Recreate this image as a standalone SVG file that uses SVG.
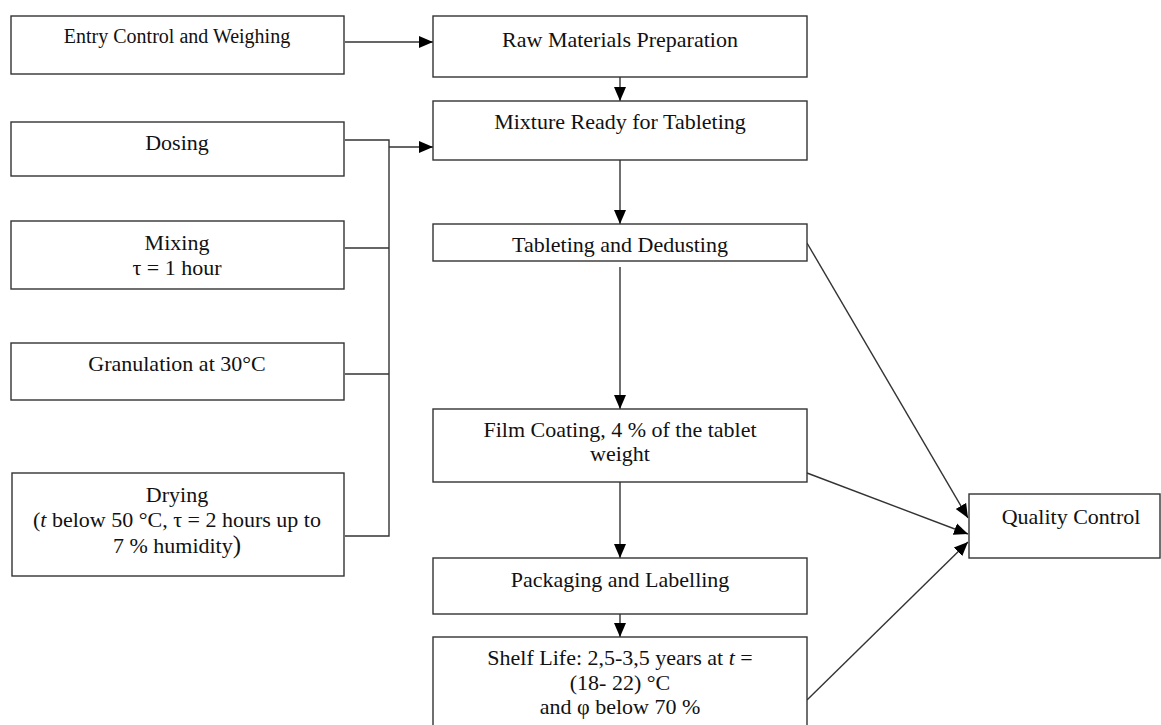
<svg xmlns="http://www.w3.org/2000/svg" width="1161" height="725" viewBox="0 0 1161 725">
<defs>
<marker id="ah" markerUnits="userSpaceOnUse" markerWidth="14" markerHeight="14" viewBox="0 0 14 14" refX="14" refY="7" orient="auto">
<path d="M0,1 L14,7 L0,13 Z" fill="#000"/>
</marker>
<style>
.box{fill:#fff;stroke:#333;stroke-width:1.4}
.t{font-family:"Liberation Serif","Times New Roman",serif;font-size:22px;fill:#111;text-anchor:middle}
.s{font-size:20px}
.c{fill:none;stroke:#333;stroke-width:1.4}
.a{marker-end:url(#ah)}
</style>
</defs>
<rect width="1161" height="725" fill="#fff"/>
<g id="connectors">
<line class="c a" x1="345" y1="42" x2="433" y2="42"/>
<line class="c a" x1="620" y1="77" x2="620" y2="101"/>
<polyline class="c" points="345,140 389,140 389,536 345,536"/>
<line class="c" x1="345" y1="248" x2="389" y2="248"/>
<line class="c" x1="345" y1="374" x2="389" y2="374"/>
<line class="c a" x1="389" y1="147" x2="433" y2="147"/>
<line class="c a" x1="620" y1="160" x2="620" y2="224"/>
<line class="c a" x1="620" y1="267" x2="620" y2="409"/>
<line class="c a" x1="620" y1="482" x2="620" y2="558"/>
<line class="c a" x1="620" y1="614" x2="620" y2="637"/>
<line class="c a" x1="807" y1="243" x2="968" y2="518"/>
<line class="c a" x1="807" y1="473" x2="968" y2="534"/>
<line class="c a" x1="807" y1="700" x2="968" y2="542"/>
</g>
<g id="entry">
<rect class="box" x="11" y="16" width="333" height="58"/>
<text class="t s" x="177" y="43">Entry Control and Weighing</text>
</g>
<g id="raw">
<rect class="box" x="433" y="16" width="374" height="61"/>
<text class="t" x="620" y="47">Raw Materials Preparation</text>
</g>
<g id="mixture">
<rect class="box" x="433" y="101" width="374" height="59"/>
<text class="t" x="620" y="129">Mixture Ready for Tableting</text>
</g>
<g id="dosing">
<rect class="box" x="11" y="122" width="333" height="54"/>
<text class="t" x="177" y="150">Dosing</text>
</g>
<g id="mixing">
<rect class="box" x="11" y="221" width="333" height="68"/>
<text class="t" x="177" y="250">Mixing</text>
<text class="t" x="177" y="275">τ = 1 hour</text>
</g>
<g id="granulation">
<rect class="box" x="11" y="343" width="333" height="57"/>
<text class="t" x="177" y="371">Granulation at 30°C</text>
</g>
<g id="drying">
<rect class="box" x="12" y="473" width="332" height="103"/>
<text class="t" x="177" y="502">Drying</text>
<text class="t" x="177" y="527">(<tspan font-style="italic">t</tspan> below 50 °C, τ = 2 hours up to</text>
<text class="t" x="177" y="553">7 % humidity<tspan font-size="25px">)</tspan></text>
</g>
<g id="tableting">
<rect class="box" x="433" y="224" width="374" height="37"/>
<text class="t" x="620" y="252">Tableting and Dedusting</text>
</g>
<g id="film">
<rect class="box" x="433" y="409" width="374" height="73"/>
<text class="t" x="620" y="437">Film Coating, 4 % of the tablet</text>
<text class="t" x="620" y="461">weight</text>
</g>
<g id="packaging">
<rect class="box" x="433" y="558" width="374" height="56"/>
<text class="t" x="620" y="587">Packaging and Labelling</text>
</g>
<g id="shelf">
<rect class="box" x="433" y="637" width="374" height="95"/>
<text class="t" x="620" y="665">Shelf Life: 2,5-3,5 years at <tspan font-style="italic">t</tspan> =</text>
<text class="t" x="620" y="690">(18- 22) °C</text>
<text class="t" x="620" y="714">and φ below 70 %</text>
</g>
<g id="quality">
<rect class="box" x="969" y="494" width="191" height="64"/>
<text class="t" x="1071" y="524">Quality Control</text>
</g>
</svg>
